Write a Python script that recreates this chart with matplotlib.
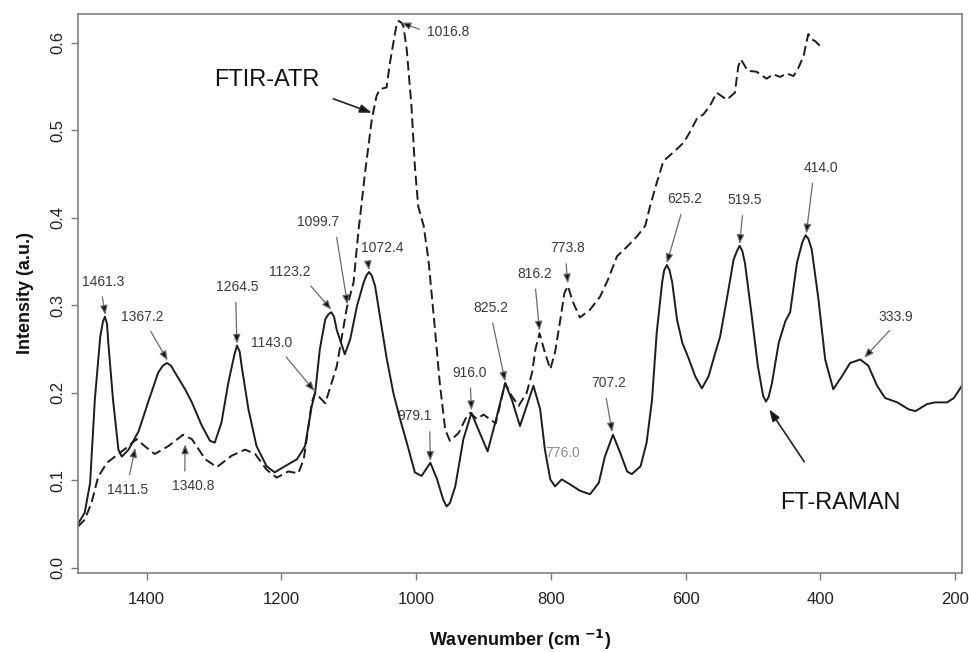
import matplotlib
matplotlib.use("Agg")
import matplotlib.pyplot as plt

plt.rcParams['font.family'] = ['Liberation Sans', 'DejaVu Sans']

# FT-RAMAN spectrum (solid line)
raman_wn = [1502, 1492, 1484, 1477, 1469, 1465, 1462, 1459, 1457, 1450, 1442, 1437,
            1427, 1412, 1398, 1383, 1376, 1370, 1364, 1358, 1343, 1333, 1318, 1306,
            1299, 1289, 1279, 1270, 1266, 1262, 1259, 1249, 1237, 1222, 1210, 1195,
            1177, 1165, 1155, 1150, 1143, 1135, 1130, 1126, 1122, 1118, 1106, 1098,
            1088, 1078, 1074, 1070, 1066, 1061, 1054, 1044, 1034, 1024, 1014, 1002,
            992, 979, 969, 960, 955, 950, 942, 930, 918, 910, 894, 882,
            868, 858, 846, 836, 826, 816, 809, 801, 794, 784,
            771, 757, 742, 729, 720, 708, 697, 687, 680, 667,
            658, 650, 643, 635, 632, 628, 624, 620, 613, 605, 596, 586,
            576, 566, 556, 549, 539, 529, 524, 520, 516, 512, 502, 493,
            485, 481, 477, 472, 462, 452, 445, 435, 427, 422, 418, 413, 403, 393,
            381, 368, 356, 341, 329, 316, 304, 286, 269, 259,
            242, 230, 212, 202, 190]
raman_int = [0.050, 0.063, 0.097, 0.192, 0.264, 0.281, 0.287, 0.279, 0.257, 0.192, 0.135, 0.127,
             0.135, 0.156, 0.189, 0.223, 0.231, 0.234, 0.231, 0.223, 0.204, 0.189, 0.162, 0.145,
             0.143, 0.166, 0.211, 0.243, 0.254, 0.247, 0.230, 0.181, 0.139, 0.116, 0.109, 0.116,
             0.124, 0.139, 0.185, 0.200, 0.250, 0.284, 0.290, 0.292, 0.287, 0.272, 0.244, 0.261,
             0.299, 0.326, 0.334, 0.338, 0.334, 0.322, 0.288, 0.240, 0.200, 0.170, 0.143, 0.109,
             0.105, 0.120, 0.101, 0.078, 0.070, 0.074, 0.093, 0.147, 0.177, 0.162, 0.133, 0.168,
             0.211, 0.192, 0.162, 0.185, 0.208, 0.181, 0.135, 0.101, 0.093, 0.101,
             0.095, 0.088, 0.084, 0.097, 0.127, 0.152, 0.131, 0.110, 0.107, 0.116,
             0.143, 0.192, 0.269, 0.326, 0.340, 0.346, 0.340, 0.326, 0.284, 0.257, 0.240, 0.219,
             0.205, 0.219, 0.246, 0.264, 0.307, 0.352, 0.362, 0.368, 0.362, 0.348, 0.288, 0.231,
             0.196, 0.190, 0.195, 0.211, 0.257, 0.282, 0.292, 0.348, 0.372, 0.380, 0.376, 0.364, 0.307, 0.238,
             0.204, 0.219, 0.234, 0.238, 0.231, 0.208, 0.194, 0.189, 0.181, 0.179,
             0.187, 0.189, 0.189, 0.194, 0.208]

# FTIR-ATR spectrum (dashed line)
ftir_wn = [1502, 1492, 1482, 1472, 1459, 1442, 1427, 1415, 1403, 1388,
           1368, 1346, 1333, 1313, 1296, 1274, 1254, 1239, 1222, 1207,
           1190, 1175, 1167, 1162, 1155, 1150, 1135, 1118, 1103, 1093,
           1086, 1076, 1066, 1059, 1054, 1044, 1039, 1031, 1029, 1026, 1022, 1019,
           1014, 1007, 1002, 997, 989, 982, 974, 965, 957, 950,
           937, 927, 920, 910, 900, 882, 868, 858, 848, 836,
           828, 823, 817, 809, 801, 794, 786, 780, 775, 767,
           757, 742, 727, 715, 702, 687, 672, 660, 653, 643,
           633, 618, 603, 593, 583, 574, 564, 554, 539, 527,
           522, 518, 508, 495, 480, 470, 460, 450, 440, 433,
           425, 421, 418, 413, 408, 400]
ftir_int = [0.047, 0.055, 0.074, 0.104, 0.120, 0.130, 0.139, 0.147, 0.139, 0.130,
            0.139, 0.152, 0.147, 0.124, 0.115, 0.128, 0.135, 0.130, 0.112, 0.103,
            0.110, 0.108, 0.124, 0.150, 0.189, 0.200, 0.188, 0.230, 0.297, 0.326,
            0.383, 0.451, 0.512, 0.539, 0.547, 0.549, 0.577, 0.613, 0.621, 0.625, 0.623, 0.619,
            0.592, 0.527, 0.459, 0.413, 0.391, 0.353, 0.288, 0.211, 0.158, 0.145,
            0.154, 0.170, 0.177, 0.170, 0.175, 0.165, 0.211, 0.196, 0.185, 0.200,
            0.223, 0.250, 0.268, 0.246, 0.227, 0.246, 0.284, 0.314, 0.322, 0.303,
            0.286, 0.295, 0.310, 0.330, 0.356, 0.367, 0.379, 0.391, 0.413, 0.440,
            0.465, 0.475, 0.486, 0.499, 0.514, 0.518, 0.528, 0.543, 0.535, 0.543,
            0.573, 0.581, 0.568, 0.567, 0.559, 0.564, 0.561, 0.565, 0.562, 0.571,
            0.585, 0.600, 0.610, 0.604, 0.602, 0.596]

# peak labels and the point each arrow marks
peak_labels = ['1461.3', '1367.2', '1264.5', '1123.2', '1099.7', '1072.4', '1016.8',
               '1143.0', '1411.5', '1340.8', '979.1', '916.0', '825.2', '816.2',
               '773.8', '707.2', '625.2', '519.5', '414.0', '333.9']
peak_wn = [1461.3, 1369, 1266, 1126, 1102, 1070, 1022,
           1151, 1417, 1343, 979.1, 918, 868, 817,
           775, 709, 628, 520, 421, 335]
peak_int = [0.289, 0.237, 0.256, 0.295, 0.301, 0.340, 0.623,
            0.202, 0.137, 0.141, 0.122, 0.180, 0.213, 0.271,
            0.325, 0.155, 0.348, 0.370, 0.382, 0.240]

fig = plt.figure(figsize=(9.7, 6.52), dpi=100)
ax = fig.add_axes([0.0804, 0.1212, 0.9113, 0.8574])

ax.plot(raman_wn, raman_int, '-', color='#1c1c1c', lw=1.4)
ax.plot(ftir_wn, ftir_int, '--', color='#1c1c1c', lw=1.4, dashes=(5, 2.4))

ax.set_xlim(1502, 190)
ax.set_ylim(-0.006, 0.633)
ax.set_xticks([1400, 1200, 1000, 800, 600, 400, 200])
ax.set_yticks([0.0, 0.1, 0.2, 0.3, 0.4, 0.5, 0.6])
ax.set_yticklabels(['0.0', '0.1', '0.2', '0.3', '0.4', '0.5', '0.6'],
                   rotation=90, va='center')
ax.tick_params(length=5, width=1, color='#777777', labelsize=12,
               labelcolor='#222222')
ax.tick_params(axis='x', pad=9)
ax.tick_params(axis='y', pad=4)
for s in ax.spines.values():
    s.set_color('#808080')
    s.set_linewidth(1.2)

lab_font = dict(weight='bold', size=13, color='#111111')
ax.set_xlabel('Wavenumber (cm $^{\\mathbf{-1}}$)', labelpad=15, **lab_font)
ax.set_ylabel('Intensity (a.u.)', labelpad=12, **lab_font)

# where each label text sits (data coords) and where its arrow leaves the text
text_pos = [(1465, 0.327), (1407, 0.287), (1265, 0.321), (1187, 0.338),
            (1145, 0.395), (1051, 0.366), (952, 0.612), (1214, 0.257),
            (1428, 0.089), (1331, 0.093), (1003, 0.173), (920, 0.223),
            (889, 0.297), (824, 0.336), (776, 0.365), (715, 0.211),
            (601, 0.421), (512, 0.420), (400, 0.457), (288, 0.287)]
rel = [(0.45, 0), (0.6, 0), (0.45, 0), (0.85, 0), (0.9, 0), (0.15, 0), (0, 0.5),
       (0.7, 0), (0.5, 1), (0.3, 1), (0.95, 0), (0.5, 0),
       (0.5, 0), (0.5, 0), (0.45, 0), (0.4, 0),
       (0.45, 0), (0.45, 0), (0.3, 0), (0.5, 0)]

for lab, w, v, (tx, ty), rp in zip(peak_labels, peak_wn, peak_int, text_pos, rel):
    ax.annotate(lab, xy=(w, v), xytext=(tx, ty), ha='center', va='center',
                fontsize=10, color='#3a3a3a',
                arrowprops=dict(arrowstyle='-|>,head_length=0.55,head_width=0.22',
                                fc='#111111', ec='#6a6a6a', lw=0.9, relpos=rp,
                                shrinkA=4, shrinkB=0))

ax.text(783, 0.131, '776.0', ha='center', va='center', fontsize=10, color='#8a8a8a')

# series names with their pointers
ax.text(1222, 0.557, 'FTIR-ATR', ha='center', va='center', fontsize=17, color='#111111')
ax.annotate('', xy=(1066, 0.520), xytext=(1123, 0.536),
            arrowprops=dict(arrowstyle='-|>,head_length=0.7,head_width=0.25',
                            fc='#111111', ec='#222222', lw=1.2, shrinkA=0, shrinkB=0))
ax.text(370, 0.074, 'FT-RAMAN', ha='center', va='center', fontsize=17, color='#111111')
ax.annotate('', xy=(476, 0.181), xytext=(424, 0.121),
            arrowprops=dict(arrowstyle='-|>,head_length=0.7,head_width=0.25',
                            fc='#111111', ec='#222222', lw=1.2, shrinkA=0, shrinkB=0))

fig.savefig('out.png', dpi=100)
